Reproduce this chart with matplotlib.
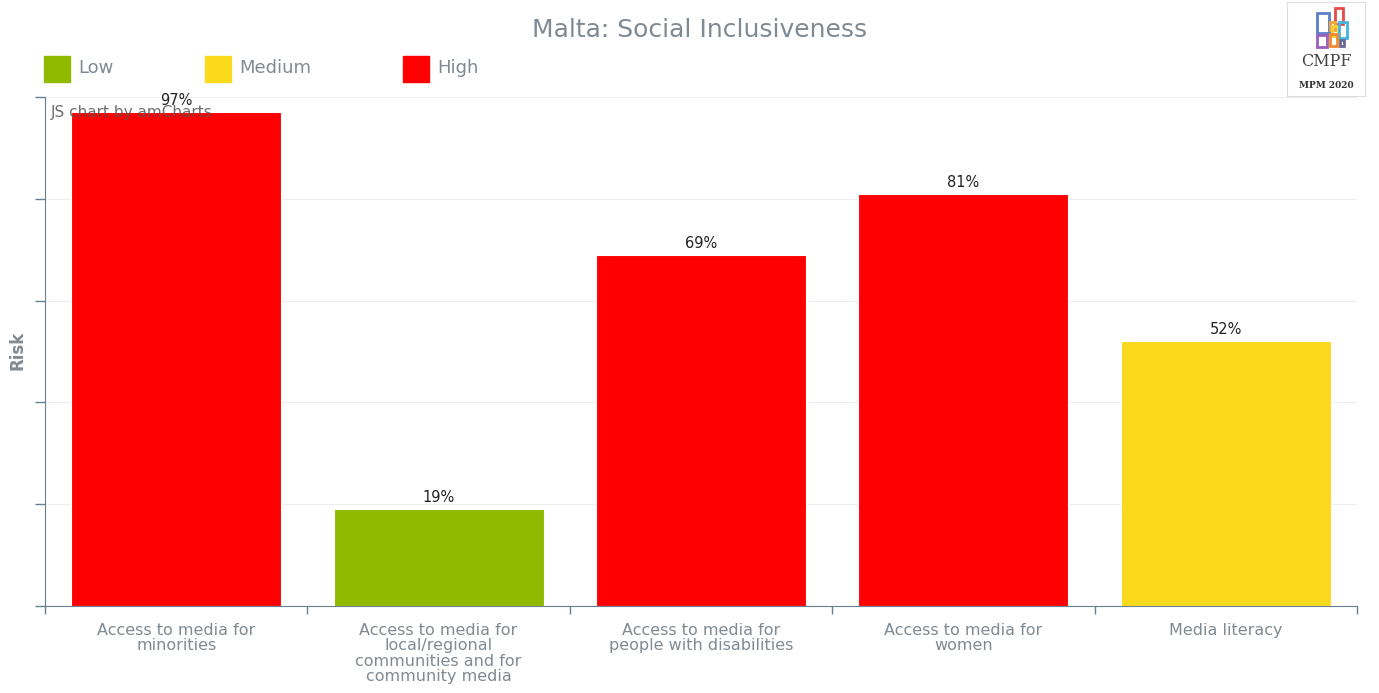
import matplotlib.pyplot as plt
from matplotlib.patches import Rectangle

# Data
categories = ['Access to media for\nminorities',
              'Access to media for\nlocal/regional\ncommunities and for\ncommunity media',
              'Access to media for\npeople with disabilities',
              'Access to media for\nwomen',
              'Media literacy']
risk = [97, 19, 69, 81, 52]
levels = ['High', 'Low', 'High', 'High', 'Medium']

level_names = ['Low', 'Medium', 'High']
level_colors = {'Low': '#8fba00', 'Medium': '#fbd91c', 'High': '#ff0000'}

grey = '#7f8a93'
axis_col = '#67808f'

fig = plt.figure(figsize=(13.79, 6.93), dpi=100)
W, H = 1379, 693
ax = fig.add_axes([45 / W, 1 - 606 / H, (1357 - 45) / W, (606 - 97) / H])

x = range(len(categories))
ax.bar(x, risk, width=0.8, color=[level_colors[l] for l in levels],
       edgecolor='white', linewidth=0.8, zorder=2)
for i, v in enumerate(risk):
    ax.text(i, v + 0.8, f'{v}%', ha='center', va='bottom', fontsize=10.5, color='#222222', zorder=4)

ax.set_xlim(-0.5, len(categories) - 0.5)
ax.set_ylim(0, 100)
ax.set_yticks([0, 20, 40, 60, 80, 100])
ax.set_yticklabels([])
ax.grid(axis='y', color='#eeeeee', linewidth=0.8, zorder=0)
ax.tick_params(axis='y', length=7, color=axis_col, width=1)

ax.set_xticks([i - 0.5 for i in range(len(categories) + 1)], minor=False)
ax.set_xticklabels([])
ax.tick_params(axis='x', length=6, color=axis_col, width=1, direction='out')
ax.set_xticks(list(x), minor=True)
ax.set_xticklabels(categories, minor=True, fontsize=11.5, color=grey, linespacing=1.05)
ax.tick_params(axis='x', which='minor', length=0, pad=12)

for s in ['top', 'right']:
    ax.spines[s].set_visible(False)
ax.spines['left'].set_color(axis_col)
ax.spines['bottom'].set_color(axis_col)

fig.text(18 / W, 1 - 350 / H, 'Risk', rotation=90, ha='center', va='center',
         fontsize=12, fontweight='bold', color=grey)

ax.text(6 / (1357 - 45), 0.97, 'JS chart by amCharts', transform=ax.transAxes,
        fontsize=11, color='#555555', alpha=0.85, va='center', zorder=5)

# Title
fig.text(700 / W, 1 - 30 / H, 'Malta: Social Inclusiveness', ha='center', va='center',
         fontsize=18, color=grey)

# Legend
leg_x = [44, 205, 403]
for name, lx in zip(level_names, leg_x):
    fig.patches.append(Rectangle((lx / W, 1 - 82 / H), 26 / W, 26 / H,
                                 transform=fig.transFigure, color=level_colors[name]))
    fig.text((lx + 34) / W, 1 - 68 / H, name, fontsize=13, color=grey, va='center')

# Logo
lax = fig.add_axes([1287 / W, 1 - 96 / H, 78 / W, 94 / H])
lax.set_xlim(0, 78)
lax.set_ylim(0, 94)
lax.set_xticks([])
lax.set_yticks([])
for s in lax.spines.values():
    s.set_color('#dddddd')
logo_boxes = [((30, 63), 12, 20, '#5b7fc7'), ((48, 72), 8, 16, '#e84a4a'),
              ((43, 66), 5, 8, '#f2a43a'), ((45, 60), 6, 10, '#f2d13a'),
              ((52, 58), 8, 16, '#3fb6e0'), ((30, 49), 10, 12, '#9b5fc0'),
              ((43, 50), 7, 12, '#f08a2a'), ((53, 50), 4, 6, '#6a6a9a')]
for (bx, by), bw, bh, c in logo_boxes:
    lax.add_patch(Rectangle((bx, by), bw, bh, fill=False, edgecolor=c, linewidth=2))
lax.text(39, 34, 'CMPF', ha='center', va='center', fontsize=11.5, family='DejaVu Serif', color='#444444')
lax.text(39, 11, 'MPM 2020', ha='center', va='center', fontsize=6.5, family='DejaVu Serif',
         fontweight='bold', color='#333333')

fig.savefig('out.png', dpi=100)
